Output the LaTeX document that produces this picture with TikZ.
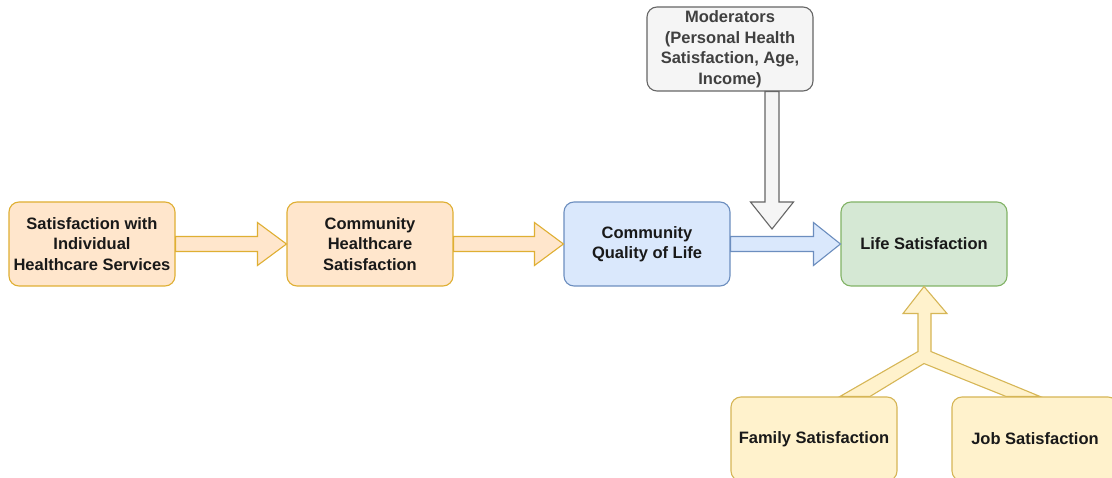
\documentclass[tikz,border=0pt]{standalone}
\usepackage{fontspec}
\setmainfont{Liberation Sans}
\usetikzlibrary{calc}
\definecolor{orfill}{HTML}{FFE6CC}
\definecolor{ordraw}{HTML}{D79B00}
\definecolor{blfill}{HTML}{DAE8FC}
\definecolor{bldraw}{HTML}{6C8EBF}
\definecolor{grfill}{HTML}{D5E8D4}
\definecolor{grdraw}{HTML}{82B366}
\definecolor{gyfill}{HTML}{F5F5F5}
\definecolor{gydraw}{HTML}{666666}
\definecolor{yefill}{HTML}{FFF2CC}
\definecolor{yedraw}{HTML}{D6B656}
\tikzset{
  box/.style={draw, rounded corners=10pt, line width=1.1pt, minimum width=166pt,
    minimum height=84pt, inner sep=0pt, align=center,
    font=\bfseries\fontsize{16.5}{20.5}\selectfont, text=black!90},
  orbox/.style={box, fill=orfill, draw=ordraw!80},
  blbox/.style={box, fill=blfill, draw=bldraw},
  grbox/.style={box, fill=grfill, draw=grdraw},
  gybox/.style={box, fill=gyfill, draw=gydraw, text=black!75},
  yebox/.style={box, fill=yefill, draw=yedraw},
  blockarrow/.style={line width=1.1pt, line join=miter},
}
\begin{document}
\begin{tikzpicture}[x=1pt,y=-1pt]
\useasboundingbox (0,0) rectangle (1112,478);
\clip (0,0) rectangle (1112,478);
\fill[white] (0,0) rectangle (1112,478);

\node[orbox] (sat) at (92,244) {Satisfaction with\\Individual\\Healthcare Services};
\node[orbox] (chs) at (370,244) {Community\\Healthcare\\Satisfaction};
\node[blbox] (cql) at (647,244) {Community\\Quality of Life};
\node[grbox] (life) at (924,244) {Life Satisfaction};
\node[gybox] (mod) at (730,49) {Moderators\\(Personal Health\\Satisfaction, Age,\\Income)};
\node[yebox] (fam) at (814,439) {Family Satisfaction};
\node[yebox] (job) at (1035,439) {Job Satisfaction};

% horizontal block arrows
\draw[blockarrow, fill=orfill, draw=ordraw!80]
  ($(sat.east)+(0,-7.5)$) -- ($(chs.west)+(-29,-7.5)$) -- ($(chs.west)+(-29,-21.5)$)
  -- (chs.west) -- ($(chs.west)+(-29,21.5)$) -- ($(chs.west)+(-29,7.5)$)
  -- ($(sat.east)+(0,7.5)$) -- cycle;
\draw[blockarrow, fill=orfill, draw=ordraw!80]
  ($(chs.east)+(0,-7.5)$) -- ($(cql.west)+(-29,-7.5)$) -- ($(cql.west)+(-29,-21.5)$)
  -- (cql.west) -- ($(cql.west)+(-29,21.5)$) -- ($(cql.west)+(-29,7.5)$)
  -- ($(chs.east)+(0,7.5)$) -- cycle;
\draw[blockarrow, fill=blfill, draw=bldraw]
  ($(cql.east)+(0,-7.5)$) -- ($(life.west)+(-27,-7.5)$) -- ($(life.west)+(-27,-21.5)$)
  -- (life.west) -- ($(life.west)+(-27,21.5)$) -- ($(life.west)+(-27,7.5)$)
  -- ($(cql.east)+(0,7.5)$) -- cycle;

% moderator arrow
\coordinate (modtip) at (772,229);
\draw[blockarrow, fill=gyfill, draw=gydraw]
  ($(mod.south)+(35,0)$) -- ($(modtip)+(-7,-27)$) -- ($(modtip)+(-21.5,-27)$)
  -- (modtip) -- ($(modtip)+(21.5,-27)$) -- ($(modtip)+(7,-27)$)
  -- ($(mod.south)+(49,0)$) -- cycle;

% merging arrow
\draw[blockarrow, fill=yefill, draw=yedraw]
  (life.south) -- ($(life.south)+(23,27)$) -- ($(life.south)+(7,27)$)
  -- ($(life.south)+(7,65)$) -- ($(job.north)+(5,0)$) -- ($(job.north)+(-29,0)$)
  -- ($(life.south)+(0,77)$) -- ($(fam.north)+(56,0)$) -- ($(fam.north)+(26,0)$)
  -- ($(life.south)+(-6,65)$) -- ($(life.south)+(-6,27)$) -- ($(life.south)+(-21,27)$)
  -- cycle;
\end{tikzpicture}
\end{document}
